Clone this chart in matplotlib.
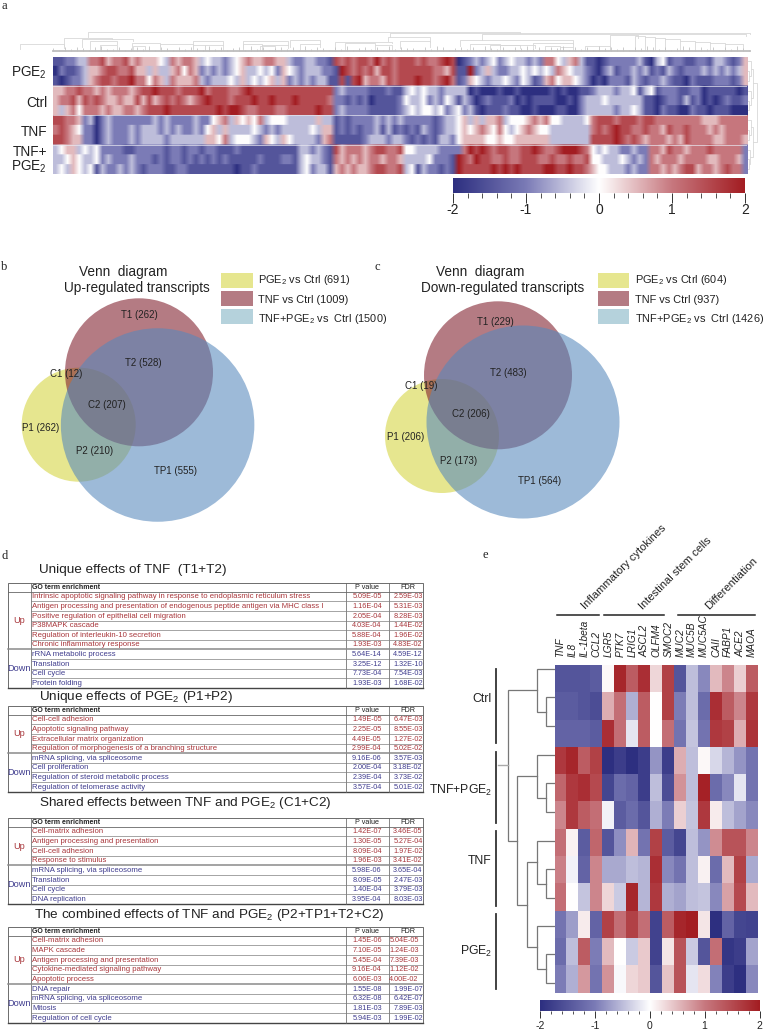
import numpy as np
import matplotlib
matplotlib.use('Agg')
import matplotlib.pyplot as plt
from matplotlib.colors import LinearSegmentedColormap
from matplotlib.patches import Circle, Rectangle

plt.rcParams['font.family'] = ['Liberation Sans', 'DejaVu Sans']
plt.rcParams['mathtext.fontset'] = 'custom'
plt.rcParams['mathtext.rm'] = 'Liberation Sans'
plt.rcParams['mathtext.default'] = 'regular'

W, H = 764, 1030
SUB = '$_{2}$'

# panel a: levels 0..8 stand for -2..2, one string per heatmap row
a_rows = [
    '112233 667566 756555 436566 534332 345655 665532 233221 767677 686767 776766 787012 323423 433232 664356 311012 222231 034122 112213 32125',
    '021123 556776 675535 335646 523232 345334 342543 233322 187676 757767 777776 657118 235322 334343 436543 321023 122323 121321 222323 23235',
    '101223 567767 786646 536555 632333 435343 453523 232331 171785 665767 778776 786125 432334 324312 564554 320102 221321 223211 021112 22125',
    '556676 656566 656778 777677 786777 667877 777777 777777 232222 111211 343433 233330 100010 010000 010100 112333 233413 412221 122011 11101',
    '566757 676556 557575 676765 678777 677787 787778 777776 221212 011112 433423 243132 012111 201011 110010 233343 333331 101221 312010 12112',
    '535646 665655 665677 787777 777787 887667 776677 777877 232222 111112 343443 423423 101112 110010 001100 233333 233431 102110 021101 11000',
    '776652 302322 222223 232222 322456 354546 344433 333533 121222 232323 222221 233453 535563 444565 644333 346777 677767 766666 666555 66666',
    '676542 202322 232333 232322 324535 333343 232333 334355 121212 231312 121321 233454 565464 345654 433333 336767 877667 665766 766656 56666',
    '776552 202322 232333 323333 335546 344432 543543 333256 111112 333233 212121 332455 554454 455555 533333 337777 876765 666565 766665 56665',
    '345534 342222 112222 212212 212211 121111 111111 332321 756665 677667 443333 222268 787677 667787 667888 764343 322322 665766 566676 66662',
    '334543 342322 232221 212212 121212 111112 111221 343321 656565 665665 333342 221876 877667 667776 676676 674433 343232 656665 666655 66652',
    '343543 413223 232122 211221 111111 101121 111111 342331 565655 677667 341322 121877 777878 787777 887787 765443 332322 665656 775665 67662',
]
a_labels = ['PGE' + SUB, 'Ctrl', 'TNF', 'TNF+\nPGE' + SUB]

# column dendrogram of panel a: left, right, top, left foot, right foot
a_brackets = [
    (88, 520, 32, 37, 33), (390, 750, 33, 37, 34), (482, 746, 34, 40, 36),
    (64, 112, 38, 46, 39), (82, 133, 39, 47, 41), (90, 117, 41, 49, 44),
    (132, 160, 43, 50, 46), (193, 223, 41, 48, 45), (243, 288, 41, 48, 45),
    (290, 320, 40, 47, 44), (335, 392, 42, 49, 43), (388, 430, 37, 41, 42),
    (400, 430, 41, 48, 47), (460, 573, 40, 46, 44), (533, 573, 43, 49, 47),
    (610, 638, 35, 50, 38), (635, 645, 36, 50, 37), (645, 655, 37, 50, 38),
    (655, 665, 38, 50, 39), (665, 680, 39, 50, 41), (680, 695, 41, 50, 42),
    (695, 710, 42, 50, 43), (710, 725, 43, 50, 44), (725, 743, 44, 50, 50),
    (20, 64, 44, 49, 48), (160, 193, 44, 49, 48), (585, 610, 46, 50, 50),
    (260, 275, 46, 50, 50), (490, 520, 45, 49, 48), (345, 375, 43, 50, 45),
    (375, 392, 45, 50, 50), (243, 262, 44, 50, 46), (262, 288, 45, 50, 48),
    (300, 320, 44, 50, 47), (193, 205, 45, 50, 50), (205, 223, 45, 50, 50),
    (100, 117, 45, 50, 50), (133, 145, 46, 50, 50), (470, 500, 44, 50, 47),
    (500, 535, 45, 50, 48), (545, 560, 46, 50, 50), (560, 573, 47, 50, 50),
]
# small merges above the leaf band of panel a, one height per heatmap column
a_leaf_merges = ('3142531462 2513426153 1425316241 3516241352 4162531426 1352416253 '
                 '3142651342 5163241536 2415361425 1635241536 4251364152 5142631')
a_row_tree = (756.5, (753, (751, 0, (749, 1, 2)), (751, 3, (749, 4, 5))),
              (753, (751, 6, (749, 7, 8)), (750, 9, (749, 10, 11))))

# panels b and c: circle centre x, centre y, diameter
venn_b = {'P': (78.7, 424.7, 114), 'T': (139, 372.3, 148), 'TP': (157.6, 425, 193.5)}
venn_c = {'P': (442, 436, 114), 'T': (498, 375.3, 148), 'TP': (523, 422, 193)}
venn_b_labels = [('T1 (262)', 139, 315), ('T2 (528)', 143, 363), ('C1 (12)', 66, 374),
                 ('C2 (207)', 107, 405), ('P1 (262)', 41, 428), ('P2 (210)', 95, 451),
                 ('TP1 (555)', 175.5, 471)]
venn_c_labels = [('T1 (229)', 495.6, 321.7), ('T2 (483)', 508, 372.7), ('C1 (19)', 421.6, 386),
                 ('C2 (206)', 471, 414), ('P1 (206)', 406, 437), ('P2 (173)', 459, 460.7),
                 ('TP1 (564)', 540, 480.7)]
legend_b = ['PGE' + SUB + ' vs Ctrl (691)', 'TNF vs Ctrl (1009)', 'TNF+PGE' + SUB + ' vs  Ctrl (1500)']
legend_c = ['PGE' + SUB + ' vs Ctrl (604)', 'TNF vs Ctrl (937)', 'TNF+PGE' + SUB + ' vs  Ctrl (1426)']
venn_colors = {'P': '#e6e68f', 'T': '#801f2d', 'TP': '#5688bc'}
swatch_colors = ['#e6e68f', '#b47b83', '#b5d2dc']

# panel d tables
tnf_up = [
    ('Intrinsic apoptotic signaling pathway in response to endoplasmic reticulum stress', '5.09E-05', '2.59E-03'),
    ('Antigen processing and presentation of endogenous peptide antigen via MHC class I', '1.16E-04', '5.31E-03'),
    ('Positive regulation of epithelial cell migration', '2.05E-04', '8.28E-03'),
    ('P38MAPK cascade', '4.03E-04', '1.44E-02'),
    ('Regulation of interleukin-10 secretion', '5.88E-04', '1.96E-02'),
    ('Chronic inflammatory response', '1.93E-03', '4.83E-02'),
]
tnf_down = [
    ('rRNA metabolic process', '5.64E-14', '4.59E-12'),
    ('Translation', '3.25E-12', '1.32E-10'),
    ('Cell cycle', '7.73E-04', '7.54E-03'),
    ('Protein folding', '1.93E-03', '1.68E-02'),
]
pge_up = [
    ('Cell-cell adhesion', '1.49E-05', '6.47E-03'),
    ('Apoptotic signaling pathway', '2.25E-05', '8.55E-03'),
    ('Extracellular matrix organization', '4.49E-05', '1.27E-02'),
    ('Regulation of morphogenesis of a branching structure', '2.99E-04', '5.02E-02'),
]
pge_down = [
    ('mRNA splicing, via spliceosome', '9.16E-06', '3.57E-03'),
    ('Cell proliferation', '2.00E-04', '3.18E-02'),
    ('Regulation of steroid metabolic process', '2.39E-04', '3.73E-02'),
    ('Regulation of telomerase activity', '3.57E-04', '5.01E-02'),
]
shared_up = [
    ('Cell-matrix adhesion', '1.42E-07', '3.46E-05'),
    ('Antigen processing and presentation', '1.30E-05', '5.27E-04'),
    ('Cell-cell adhesion', '8.09E-04', '1.97E-02'),
    ('Response to stimulus', '1.96E-03', '3.41E-02'),
]
shared_down = [
    ('mRNA splicing, via spliceosome', '5.98E-06', '3.65E-04'),
    ('Translation', '8.09E-05', '2.47E-03'),
    ('Cell cycle', '1.40E-04', '3.79E-03'),
    ('DNA replication', '3.95E-04', '8.03E-03'),
]
combined_up = [
    ('Cell-matrix adhesion', '1.45E-06', '5.04E-05'),
    ('MAPK cascade', '7.10E-05', '1.24E-03'),
    ('Antigen processing and presentation', '5.45E-04', '7.39E-03'),
    ('Cytokine-mediated signaling pathway', '9.16E-04', '1.12E-02'),
    ('Apoptotic process', '6.06E-03', '4.00E-02'),
]
combined_down = [
    ('DNA repair', '1.55E-08', '1.99E-07'),
    ('mRNA splicing, via spliceosome', '6.32E-08', '6.42E-07'),
    ('Mitosis', '1.81E-03', '7.89E-03'),
    ('Regulation of cell cycle', '5.94E-03', '1.99E-02'),
]

# panel e heatmap
e_genes = ['TNF', 'IL8', 'IL-1beta', 'CCL2', 'LGR5', 'PTK7', 'LRIG1', 'ASCL2', 'OLFM4', 'SMOC2',
           'MUC2', 'MUC5B', 'MUC5AC', 'CAII', 'FABP1', 'ACE2', 'MAOA']
e_values = [
    [-1.5, -1.5, -1.5, -1.4, 0.05, 1.9, 1.3, 1.8, 0.3, 1.6, -1.5, -0.5, -0.9, 0.5, 0.9, 0.35, 1.3],
    [-1.4, -1.4, -1.5, -1.6, 0.6, 1.1, -0.6, 1.3, 0.0, 1.6, -1.0, -0.5, -1.2, 1.8, 1.3, 0.9, 1.7],
    [-1.3, -1.3, -1.3, -1.4, 1.8, 1.1, -0.2, 1.3, 0.0, 1.1, -1.1, -0.45, -1.1, 1.7, 1.6, 0.6, 1.75],
    [1.7, 1.9, 1.3, 1.6, -2.0, -1.8, -2.0, -1.8, -0.8, -1.8, 0.6, -0.5, 0.05, -0.3, -0.55, -0.8, -1.1],
    [1.2, 1.7, 1.8, 1.5, -1.7, -1.2, -1.3, -1.8, -0.5, -1.6, 0.8, -0.5, 1.95, -1.2, -0.9, -0.2, -1.1],
    [0.9, 1.7, 1.3, 1.1, -0.1, -1.4, -1.2, -1.5, -0.6, -1.0, 0.35, -0.45, 1.7, 0.15, -0.5, -0.7, -0.9],
    [1.1, 0.1, -1.4, 1.2, -1.5, -0.85, 0.55, -1.1, 1.6, -1.4, -1.7, -0.5, -0.8, 0.85, 1.4, 1.4, 0.9],
    [0.95, -0.1, -1.3, 0.9, -0.65, -0.65, -0.5, -0.55, 1.8, -0.9, -1.1, -0.5, 0.1, -1.2, 0.5, 1.6, -0.65],
    [1.1, 0.0, -0.45, 0.9, 0.3, -0.4, 1.9, -0.55, 1.7, -0.6, -0.7, -0.5, -0.45, -0.9, 0.7, 1.5, 0.5],
    [-1.1, -0.75, 0.15, -1.3, 1.6, 1.1, 1.6, 1.1, -1.75, 1.3, 1.9, 2.0, 0.2, -2.0, -1.3, -1.7, -1.75],
    [-1.2, -0.5, 1.3, -1.0, 0.5, 0.0, -0.4, 0.4, -1.75, 0.2, 1.4, -0.4, -1.5, 1.1, -1.9, -1.8, -0.7],
    [-1.0, -0.6, 0.75, -1.1, 0.8, -0.05, 0.3, 0.4, -1.5, 0.45, 1.4, -0.2, 0.25, -0.95, -1.8, -2.0, -0.9],
]
e_leaf_y = [669, 697, 726, 755, 783, 812, 841, 869, 898, 926, 954, 983]
e_tree = (507.7, (536.7, 0, (545.7, 1, 2)),
          (517.3, (536.7, 3, (545.7, 4, 5)),
           (526.7, (536.7, 6, (545.7, 7, 8)), (536.7, 9, (545.7, 10, 11)))))
e_groups = [('Ctrl', 669, 743, 699), ('TNF+PGE' + SUB, 752, 823, 790),
            ('TNF', 831, 906, 861), ('PGE' + SUB, 914, 989, 951)]
e_categories = [('Inflammatory cytokines', 557, 599, 587), ('Intestinal stem cells', 604, 664, 644),
                ('Differentiation', 678, 755, 711)]

cmap = LinearSegmentedColormap.from_list('bwr_paper', [
    (0.0, '#2d2f80'), (0.25, '#7b7bb6'), (0.5, '#ffffff'), (0.75, '#c7787f'), (1.0, '#a31d22')])


def px_axes(fig, left, top, right, bottom):
    return fig.add_axes([left / W, 1 - bottom / H, (right - left) / W, (bottom - top) / H])


def draw_tree(ax, node, leaf_pos, leaf_x, color, lw):
    # node is (x, child, child), a bare int is a leaf. gives back x and y of the node
    if isinstance(node, int):
        return leaf_x, leaf_pos[node]
    x = node[0]
    x1, y1 = draw_tree(ax, node[1], leaf_pos, leaf_x, color, lw)
    x2, y2 = draw_tree(ax, node[2], leaf_pos, leaf_x, color, lw)
    ax.plot([x1, x, x, x2], [y1, y1, y2, y2], color=color, lw=lw, solid_joinstyle='miter')
    return x, (y1 + y2) / 2


def colorbar(fig, left, top, right, bottom, size, pad, ticklen):
    ax = px_axes(fig, left, top, right, bottom)
    ax.imshow(np.linspace(-2, 2, 256)[None, :], cmap=cmap, aspect='auto', extent=(-2, 2, 0, 1))
    ax.set_yticks([])
    ax.set_xticks([-2, -1, 0, 1, 2])
    ax.set_xticklabels(['-2', '-1', '0', '1', '2'], fontsize=size, color='#222222')
    ax.set_xticks(np.arange(-2, 2.01, 0.2), minor=True)
    ax.tick_params(axis='x', which='major', length=ticklen, width=0.7, pad=pad, color='#333333')
    ax.tick_params(axis='x', which='minor', length=ticklen * 0.5, width=0.6, color='#333333')
    for s in ax.spines.values():
        s.set_visible(False)
    return ax


def venn(ax, circles, labels, legend, title_lines, swatch_x):
    for key, alpha in [('P', 1.0), ('T', 0.59), ('TP', 0.58)]:
        cx, cy, d = circles[key]
        ax.add_patch(Circle((cx, cy), d / 2, facecolor=venn_colors[key], edgecolor='none', alpha=alpha))
    for txt, x, y in labels:
        ax.text(x, y, txt, fontsize=7, ha='center', va='center', color='#222222')
    for txt, x, y in title_lines:
        ax.text(x, y, txt, fontsize=9.8, ha='left', va='center', color='#222222')
    tops = [273, 291, 309]
    texts = [280, 300, 319]
    for top, ty, col, txt in zip(tops, texts, swatch_colors, legend):
        ax.add_patch(Rectangle((swatch_x, top), 31.5, 14.5, facecolor=col, edgecolor='none'))
        ax.text(swatch_x + 37.5, ty, txt, fontsize=7.9, ha='left', va='center', color='#222222')


def go_table(ax, top, header_bottom, bottom, up, down, fdr_up_x=408):
    red, blue = '#a8363b', '#3f3c8e'
    left, c1, c2, c3, right = 8.3, 30.5, 345.5, 389.3, 422.5
    n = len(up) + len(down)
    rh = (bottom - header_bottom) / n
    ax.add_patch(Rectangle((left, top), right - left, bottom - top, fill=False, ec='#555555', lw=0.6))
    ax.plot([left, right], [bottom, bottom], color='#444444', lw=1.0)
    for x in (c1, c2, c3):
        ax.plot([x, x], [top, bottom], color='#666666', lw=0.55)
    ax.text(c1 + 2, (top + header_bottom) / 2, 'GO term enrichment', fontsize=5, fontweight='bold',
            va='center', color='#222222')
    ax.text(367, (top + header_bottom) / 2, 'P value', fontsize=5.2, ha='center', va='center', color='#222222')
    ax.text(408, (top + header_bottom) / 2, 'FDR', fontsize=5.2, ha='center', va='center', color='#222222')
    y = header_bottom
    ax.plot([left, right], [y, y], color='#666666', lw=0.6)
    for block, col, name, fdr_x in ((up, red, 'Up', fdr_up_x), (down, blue, 'Down', 408)):
        ax.text(19.4, y + rh * len(block) / 2, name, fontsize=6.6, ha='center', va='center', color=col)
        for i, (term, p, fdr) in enumerate(block):
            yc = y + rh * (i + 0.5)
            ax.text(c1 + 1.8, yc + 0.3, term, fontsize=5.55, va='center', color=col)
            ax.text(367, yc + 0.3, p, fontsize=5.2, ha='center', va='center', color=col)
            ax.text(fdr_x, yc + 0.3, fdr, fontsize=5.2, ha='center', va='center', color=col)
            if i < len(block) - 1:
                ax.plot([c1, right], [yc + rh / 2] * 2, color='#808080', lw=0.5)
        y += rh * len(block)
        if name == 'Up':
            ax.plot([left, right], [y, y], color='#8a8a8a', lw=1.1)


fig = plt.figure(figsize=(W / 100, H / 100), dpi=100)
canvas = fig.add_axes([0, 0, 1, 1])
canvas.set_xlim(0, W)
canvas.set_ylim(H, 0)
canvas.axis('off')

# panel letters
for letter, x, y in [('a', 4, 6), ('b', 4, 267), ('c', 377, 267), ('d', 5, 556), ('e', 485, 555)]:
    canvas.text(x, y, letter, fontsize=9, family='Liberation Serif', ha='center', va='center', color='#222222')

# ---- panel a
a_matrix = np.array([[int(c) for c in r.replace(' ', '')] for r in a_rows], dtype=float) / 2 - 2
ax_a = px_axes(fig, 52.5, 56.5, 747, 174)
# rows repeated so that the smoothing only softens the stripes along a row
ax_a.imshow(np.repeat(a_matrix, 10, axis=0), cmap=cmap, vmin=-2, vmax=2, aspect='auto', interpolation='bilinear')
ax_a.axis('off')
for row in (3, 6, 9):
    ax_a.axhline(row * 10 - 0.5, color='#e8e8f0', lw=0.5)

for x0, x1, top, foot0, foot1 in a_brackets:
    canvas.plot([x0, x0, x1, x1], [foot0, top, top, foot1], color='#d8d8d8', lw=0.6)
leaf_heights = [int(c) for c in a_leaf_merges.replace(' ', '')]
leaf_x = np.linspace(53, 749, len(leaf_heights))
canvas.vlines(leaf_x, 50.5 - np.array(leaf_heights) * 0.8, 51, color='#c4c4c4', lw=0.6)
canvas.plot([52.5, 750], [51.3, 51.3], color='#bdbdbd', lw=1.3)
a_leaf_y = 56.5 + (174 - 56.5) / 12 * (np.arange(12) + 0.5)
draw_tree(canvas, a_row_tree, a_leaf_y, 747.5, '#d8d8d8', 0.6)

for label, y in zip(a_labels, [73, 103, 132, 160]):
    canvas.text(47, y, label, fontsize=9.8, ha='right', va='center', color='#222222', linespacing=0.95)
colorbar(fig, 453, 178, 745, 193, 10, 0, 7)

# ---- panels b, c
venn(canvas, venn_b, venn_b_labels, legend_b,
     [('Venn  diagram', 79, 272), ('Up-regulated transcripts', 64, 288)], 221)
venn(canvas, venn_c, venn_c_labels, legend_c,
     [('Venn  diagram', 436, 272), ('Down-regulated transcripts', 420.6, 288)], 597.5)

# ---- panel d
for txt, x, y in [('Unique effects of TNF  (T1+T2)', 39, 570),
                  ('Unique effects of PGE' + SUB + ' (P1+P2)', 39, 697),
                  ('Shared effects between TNF and PGE' + SUB + ' (C1+C2)', 39, 803),
                  ('The combined effects of TNF and PGE' + SUB + ' (P2+TP1+T2+C2)', 33.5, 915)]:
    canvas.text(x, y, txt, fontsize=9.7, va='center', color='#222222')
go_table(canvas, 582.7, 591.7, 688, tnf_up, tnf_down)
go_table(canvas, 705.7, 714.7, 791.7, pge_up, pge_down)
go_table(canvas, 817.7, 826.7, 904, shared_up, shared_down)
go_table(canvas, 927.3, 935.7, 1022.7, combined_up, combined_down, fdr_up_x=404)

# ---- panel e
ax_e = px_axes(fig, 554.5, 665, 758, 992.5)
ax_e.pcolormesh(np.array(e_values)[::-1], cmap=cmap, vmin=-2, vmax=2, edgecolors='none')
ax_e.set_xticks(np.arange(len(e_genes)) + 0.5)
ax_e.set_xticklabels(e_genes, rotation=90, style='italic', fontsize=7.3, color='#222222')
ax_e.set_yticks([])
ax_e.xaxis.tick_top()
ax_e.tick_params(axis='x', length=0, pad=6)
for s in ax_e.spines.values():
    s.set_visible(False)

x_end, y_end = draw_tree(canvas, e_tree, e_leaf_y, 554, '#777777', 0.9)
canvas.plot([498, x_end], [y_end, y_end], color='#aaaaaa', lw=1)
for name, y0, y1, ylab in e_groups:
    canvas.plot([496, 496], [y0, y1], color='#333333', lw=1.3)
    canvas.text(492, ylab, name, fontsize=8.8, ha='right', va='center', color='#222222')
for name, x0, x1, xt in e_categories:
    canvas.plot([x0, x1], [615, 615], color='#222222', lw=1.1)
    canvas.text(xt, 611, name, fontsize=8, rotation=45, rotation_mode='anchor', ha='left', va='bottom',
                color='#222222')
colorbar(fig, 540, 1000, 759.5, 1011, 7.5, 2, 5)

fig.savefig('out.png', dpi=100)
